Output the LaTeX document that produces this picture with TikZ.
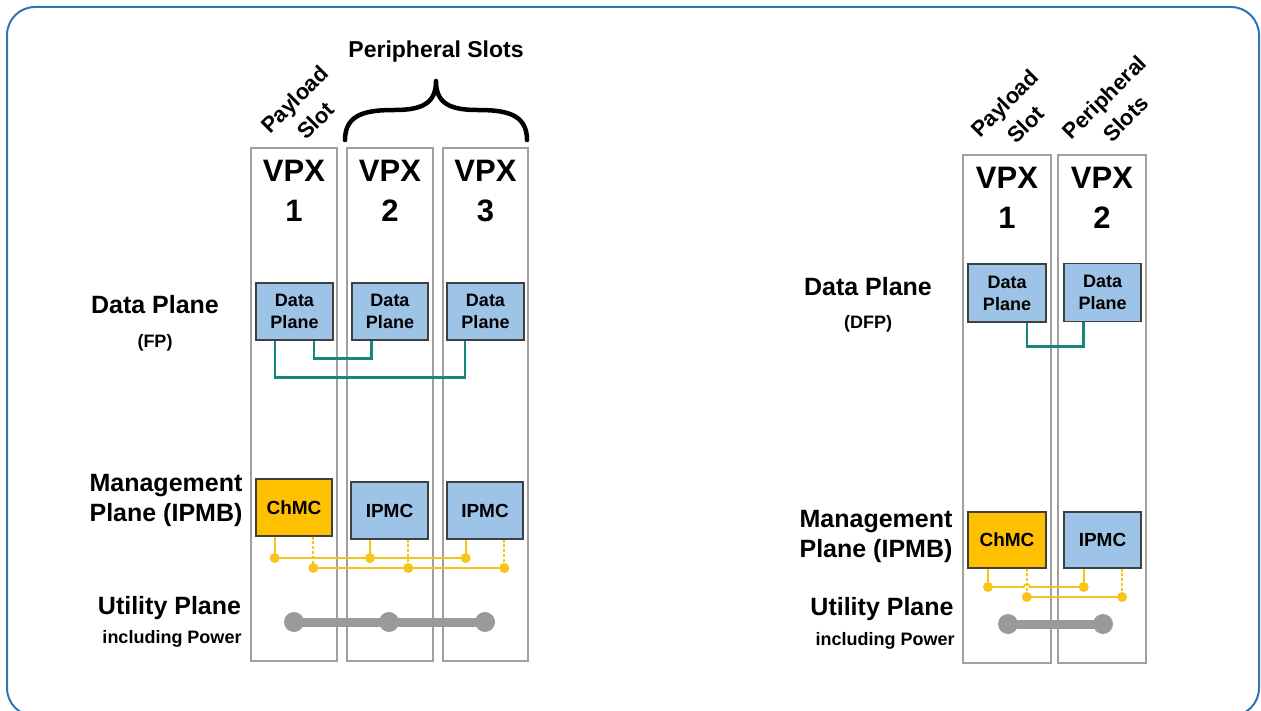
\documentclass[tikz,border=0pt]{standalone}
\usepackage{fontspec}
\setmainfont{Liberation Sans}
\usetikzlibrary{calc}
\definecolor{frameblue}{HTML}{2E75B6}
\definecolor{boxblue}{HTML}{9DC3E6}
\definecolor{chmcgold}{HTML}{FFC000}
\definecolor{busyellow}{HTML}{F7C41A}
\definecolor{dpteal}{HTML}{15877C}
\definecolor{colgray}{HTML}{A0A0A0}
\definecolor{utilgray}{HTML}{9A9A9A}
\definecolor{boxedge}{HTML}{404040}
\begin{document}
\begin{tikzpicture}[x=1pt,y=-1pt,
  slotcol/.style={draw=colgray,line width=2.5pt,inner sep=0pt},
  lbl/.style={font=\bfseries\fontsize{25}{30}\selectfont,inner sep=0pt,anchor=base},
  sublbl/.style={font=\bfseries\fontsize{18}{21}\selectfont,inner sep=0pt,anchor=base},
  vpxlbl/.style={font=\bfseries\fontsize{31}{40}\selectfont,align=center,inner sep=0pt},
  rotlbl/.style={font=\bfseries\fontsize{22}{30}\selectfont,align=center,inner sep=0pt,rotate=45},
  dpbox/.style={draw=boxedge,fill=boxblue,line width=1.2pt,minimum width=77pt,minimum height=57pt,inner sep=0pt,align=center,font=\bfseries\fontsize{18}{22}\selectfont},
  ipmcbox/.style={dpbox,font=\bfseries\fontsize{19}{22}\selectfont},
  chmcbox/.style={ipmcbox,fill=chmcgold},
  dpline/.style={draw=dpteal,line width=2.5pt},
  bus/.style={draw=busyellow,line width=1.8pt},
  dashbus/.style={bus,dash pattern=on 3pt off 1.8pt},
  bdot/.style={circle,fill=busyellow,minimum size=10pt,inner sep=0pt},
  udot/.style={circle,fill=utilgray,minimum size=20pt,inner sep=0pt},
  utilbar/.style={draw=utilgray,line width=9pt}
]
\useasboundingbox (0,0) rectangle (1261,711);
\draw[frameblue,line width=2pt,rounded corners=28pt] (7,7) rectangle (1259,716);

% ---------------- LEFT DIAGRAM ----------------
\node[slotcol,minimum width=86pt,minimum height=513pt] (col1) at (294,404.5) {};
\node[slotcol,minimum width=86pt,minimum height=513pt] (col2) at (390,404.5) {};
\node[slotcol,minimum width=85pt,minimum height=513pt] (col3) at (485.5,404.5) {};

\node[vpxlbl] (v1) at (294,191) {VPX\\1};
\node[vpxlbl] (v2) at (390,191) {VPX\\2};
\node[vpxlbl] (v3) at (485.5,191) {VPX\\3};

\node[rotlbl] (lpay) at (305,110) {Payload\\Slot};
\node[font=\bfseries\fontsize{23}{28}\selectfont,inner sep=0pt,anchor=base] (lper) at (436,58) {Peripheral Slots};
\draw[line width=4.5pt,line cap=round,line join=round] (345,140) .. controls (345,113) and (368,110) .. (395,110) .. controls (424,110) and (436,102) .. (436,81) .. controls (436,102) and (448,110) .. (477,110) .. controls (504,110) and (527,113) .. (527,140);

\node[lbl] (ldp) at (155,313) {Data Plane};
\node[sublbl] (lfp) at (155,348) {(FP)};
\node[lbl] (lmg1) at (166,491) {Management};
\node[lbl] (lmg2) at (166,521) {Plane (IPMB)};
\node[lbl] (lut) at (169.5,614) {Utility Plane};
\node[sublbl] (lpw) at (172,643) {including Power};

% data plane boxes
\node[dpbox] (b1) at (294.5,311.5) {Data\\Plane};
\node[dpbox,minimum width=76pt] (b2) at (390,311.5) {Data\\Plane};
\node[dpbox] (b3) at (485.5,311.5) {Data\\Plane};
\coordinate (b1a) at ($(b1.south west)!.25!(b1.south east)$);
\coordinate (b1b) at ($(b1.south west)!.75!(b1.south east)$);
\coordinate (b2a) at ($(b2.south west)!.26!(b2.south east)$);
\coordinate (b3a) at ($(b3.south west)!.24!(b3.south east)$);
\draw[dpline] (b1a) -- ++(0,37) -| (b3a);
\draw[dpline] (b1b) -- ++(0,18) -| (b2a);

% management
\node[chmcbox,minimum width=76pt] (c1) at (294,507.5) {ChMC};
\node[ipmcbox] (i2) at (389.5,510.5) {IPMC};
\node[ipmcbox,minimum width=76pt] (i3) at (485,510.5) {IPMC};
\coordinate (busU) at (0,558);
\coordinate (busL) at (0,568);
\coordinate (c1a) at ($(c1.south west)!.25!(c1.south east)$);
\coordinate (c1b) at ($(c1.south west)!.75!(c1.south east)$);
\coordinate (i2a) at ($(i2.south west)!.25!(i2.south east)$);
\coordinate (i2b) at ($(i2.south west)!.74!(i2.south east)$);
\coordinate (i3a) at ($(i3.south west)!.25!(i3.south east)$);
\coordinate (i3b) at ($(i3.south west)!.75!(i3.south east)$);
\draw[dashbus] (c1b) -- (c1b |- busL);
\draw[dashbus] (i2b) -- (i2b |- busL);
\draw[dashbus] (i3b) -- (i3b |- busL);
\node[bdot] (j1) at (c1a |- busU) {};
\node[bdot] (j2) at (i2a |- busU) {};
\node[bdot] (j3) at (i3a |- busU) {};
\node[bdot] (k1) at (c1b |- busL) {};
\node[bdot] (k2) at (i2b |- busL) {};
\node[bdot] (k3) at (i3b |- busL) {};
\draw[bus] (c1a) -- (j1.center);
\draw[bus] (i2a) -- (j2.center);
\draw[bus] (i3a) -- (j3.center);
\draw[bus] (j1.center) -- (j3.center);
\draw[bus] (k1.center) -- (k3.center);

% utility
\node[udot] (u1) at (294,622) {};
\node[udot] (u2) at (389,622) {};
\node[udot] (u3) at (485,622) {};
\draw[utilbar] (u1.center) -- (u3.center);

% ---------------- RIGHT DIAGRAM ----------------
\node[slotcol,minimum width=88pt,minimum height=508pt] (rcol1) at (1007,409) {};
\node[slotcol,minimum width=88pt,minimum height=508pt] (rcol2) at (1102,409) {};

\node[vpxlbl] (rv1) at (1007,197.5) {VPX\\1};
\node[vpxlbl] (rv2) at (1102,197.5) {VPX\\2};

\node[rotlbl] (rpay) at (1015,114) {Payload\\Slot};
\node[rotlbl] (rper) at (1115,108) {Peripheral\\Slots};

\node[lbl] (rdp) at (868,296) {Data Plane};
\node[sublbl] (rfp) at (868,329) {(DFP)};
\node[lbl] (rmg1) at (876,527) {Management};
\node[lbl] (rmg2) at (876,557) {Plane (IPMB)};
\node[lbl] (rut) at (882,615) {Utility Plane};
\node[sublbl] (rpw) at (885,645) {including Power};

\node[dpbox,minimum width=78pt,minimum height=58pt] (rb1) at (1007,293) {Data\\Plane};
\node[dpbox,minimum height=58pt] (rb2) at (1102.5,292.5) {Data\\Plane};
\coordinate (rb1b) at ($(rb1.south west)!.75!(rb1.south east)$);
\coordinate (rb2a) at ($(rb2.south west)!.26!(rb2.south east)$);
\draw[dpline] (rb1b) -- ++(0,24) -| (rb2a);

\node[chmcbox,minimum width=78pt,minimum height=56pt] (rc1) at (1007,540) {ChMC};
\node[ipmcbox,minimum height=56pt] (ri2) at (1102.5,540) {IPMC};
\coordinate (rbusU) at (0,587);
\coordinate (rbusL) at (0,597);
\coordinate (rc1a) at ($(rc1.south west)!.26!(rc1.south east)$);
\coordinate (rc1b) at ($(rc1.south west)!.75!(rc1.south east)$);
\coordinate (ri2a) at ($(ri2.south west)!.26!(ri2.south east)$);
\coordinate (ri2b) at ($(ri2.south west)!.75!(ri2.south east)$);
\draw[dashbus] (rc1b) -- (rc1b |- rbusL);
\draw[dashbus] (ri2b) -- (ri2b |- rbusL);
\node[bdot] (rj1) at (rc1a |- rbusU) {};
\node[bdot] (rj2) at (ri2a |- rbusU) {};
\node[bdot] (rk1) at (rc1b |- rbusL) {};
\node[bdot] (rk2) at (ri2b |- rbusL) {};
\coordinate (hop) at (rc1b |- rbusU);
\draw[bus] (rc1a) -- (rj1.center);
\draw[bus] (ri2a) -- (rj2.center);
\draw[bus] (rj1.center) -- ($(hop)+(-3,0)$) arc[start angle=180,end angle=360,radius=3] -- (rj2.center);
\draw[bus] (rk1.center) -- (rk2.center);

\node[udot] (ru1) at (1008,624) {};
\node[udot] (ru2) at (1103,624) {};
\draw[utilbar] (ru1.center) -- (ru2.center);
\end{tikzpicture}
\end{document}
